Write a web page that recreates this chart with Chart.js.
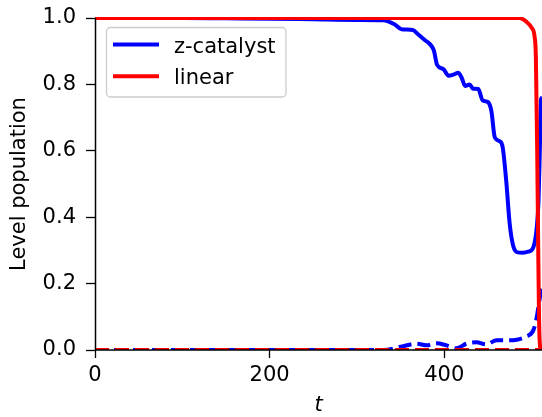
<!DOCTYPE html>
<html>
<head>
<meta charset="utf-8">
<script src="https://cdn.jsdelivr.net/npm/chart.js@4"></script>
<style>
  html, body { margin: 0; padding: 0; background: #fff; }
  #wrap { width: 542px; height: 417px; }
</style>
</head>
<body>
<div id="wrap"><canvas id="popChart" width="542" height="417"></canvas></div>
<script>
// z-catalyst, first level (solid) and second level (dashed)
const zcatT = [0, 100, 150, 200, 250, 300, 330, 343, 351, 364, 370, 378, 383, 388, 392, 399, 405, 411, 416, 420, 424, 429, 433, 439, 444, 450, 454, 458, 464, 467, 471, 475, 479, 484, 490, 496, 502, 506, 508, 509.5, 511, 512];
const zcatPop = [1.0, 1.0, 0.999, 0.998, 0.996, 0.994, 0.993, 0.981, 0.966, 0.964, 0.951, 0.933, 0.923, 0.903, 0.858, 0.846, 0.826, 0.830, 0.835, 0.820, 0.795, 0.800, 0.787, 0.786, 0.752, 0.747, 0.720, 0.640, 0.628, 0.610, 0.510, 0.380, 0.314, 0.294, 0.293, 0.296, 0.309, 0.369, 0.45, 0.60, 0.756, 0.76];
const zcatT2 = [0, 330, 352, 368, 380, 391, 402.5, 414, 425.5, 437, 448, 460, 471, 483, 494, 502, 506, 509, 512];
const zcatPop2 = [0, 0, 0.011, 0.019, 0.014, 0.020, 0.014, 0.005, 0.019, 0.023, 0.017, 0.029, 0.029, 0.031, 0.041, 0.059, 0.099, 0.15, 0.2];

// linear schedule
const linT = [0, 486, 494, 500, 503.7, 505, 506.5, 507.5, 508.5, 509.5, 511, 512];
const linPop = [1.0, 1.0, 0.989, 0.971, 0.94, 0.88, 0.6, 0.35, 0.12, 0.02, 0.0, 0.0];
const linT2 = [0, 512];
const linPop2 = [0, 0];

const yTicks = [0, 0.2, 0.4, 0.6, 0.8, 1.0];
const xTicks = [0, 200, 400];

const FONT = 'DejaVu Sans';

function pts(xs, ys) {
    return xs.map((x, i) => ({ x: x, y: ys[i] }));
}

// axes spines drawn above the curves
const spines = {
    id: 'spines',
    afterDatasetsDraw(chart) {
        const { ctx, chartArea: a } = chart;
        ctx.save();
        ctx.strokeStyle = '#000';
        ctx.lineWidth = 1.5;
        ctx.beginPath();
        ctx.moveTo(a.left + 0.5, a.top);
        ctx.lineTo(a.left + 0.5, a.bottom + 0.75);
        ctx.moveTo(a.left - 0.25, a.bottom);
        ctx.lineTo(a.right, a.bottom);
        ctx.stroke();
        ctx.restore();
    }
};

// legend box in the upper left of the plot
const legendBox = {
    id: 'legendBox',
    afterDraw(chart) {
        const ctx = chart.ctx;
        const items = chart.data.datasets.filter(d => d.label);
        ctx.save();
        ctx.beginPath();
        ctx.roundRect(106.5, 27.5, 179.5, 69.5, 4);
        ctx.fillStyle = 'rgba(255,255,255,0.8)';
        ctx.fill();
        ctx.strokeStyle = '#cccccc';
        ctx.lineWidth = 1.3;
        ctx.stroke();
        ctx.font = '21px "' + FONT + '"';
        ctx.textBaseline = 'alphabetic';
        ctx.fillStyle = '#000';
        items.forEach((d, i) => {
            const y = 44.5 + i * 31.7;
            ctx.strokeStyle = d.borderColor;
            ctx.lineWidth = 4;
            ctx.beginPath();
            ctx.moveTo(113, y);
            ctx.lineTo(159, y);
            ctx.stroke();
            ctx.fillText(d.label, 174, y + 8);
        });
        ctx.restore();
    }
};

const lineClip = { left: 0, top: 1, right: 5, bottom: 0 };

// drop the label padding chart.js adds around the scales
function noPad(s) {
    s.paddingTop = 0;
    s.paddingBottom = 0;
    s.paddingLeft = 0;
    s.paddingRight = 0;
}

// lower order is drawn on top: red over blue
new Chart(document.getElementById('popChart'), {
    type: 'line',
    data: {
        datasets: [
            { label: 'z-catalyst', data: pts(zcatT, zcatPop), borderColor: '#0000ff', borderWidth: 4, order: 2 },
            { label: '', data: pts(zcatT2, zcatPop2), borderColor: '#0000ff', borderWidth: 4, borderDash: [13, 6], order: 4 },
            { label: 'linear', data: pts(linT, linPop), borderColor: '#ff0000', borderWidth: 4, order: 1 },
            { label: '', data: pts(linT2, linPop2), borderColor: '#ff0000', borderWidth: 4, borderDash: [14, 6], order: 3 }
        ].map(d => Object.assign(d, {
            pointRadius: 0,
            fill: false,
            cubicInterpolationMode: 'monotone',
            clip: lineClip
        }))
    },
    options: {
        responsive: false,
        animation: false,
        devicePixelRatio: 1,
        layout: { padding: { top: 18, right: 0, bottom: 0, left: 0 } },
        plugins: { legend: { display: false }, tooltip: { enabled: false } },
        scales: {
            x: {
                type: 'linear',
                min: 0,
                max: 512,
                afterFit: s => { s.height = 67; noPad(s); },
                afterBuildTicks: s => { s.ticks = xTicks.map(v => ({ value: v })); },
                grid: { display: true, drawOnChartArea: false, drawTicks: true, tickLength: 8, tickColor: '#000', tickWidth: 1.3 },
                border: { display: false },
                ticks: { color: '#000', padding: 5, font: { family: FONT, size: 21 }, maxRotation: 0 },
                title: { display: true, text: 't', color: '#000', font: { family: FONT, size: 21, style: 'italic' }, padding: { top: 0, bottom: -1 } }
            },
            y: {
                min: 0,
                max: 1,
                afterFit: s => { s.width = 95; noPad(s); },
                afterBuildTicks: s => { s.ticks = yTicks.map(v => ({ value: v })); },
                grid: { display: true, drawOnChartArea: false, drawTicks: true, tickLength: 9, tickColor: '#000', tickWidth: 1.3 },
                border: { display: false },
                ticks: { color: '#000', padding: 10, font: { family: FONT, size: 21 }, callback: v => v.toFixed(1) },
                title: { display: true, text: 'Level population', color: '#000', font: { family: FONT, size: 21 }, padding: { top: 7, bottom: 0 } }
            }
        }
    },
    plugins: [spines, legendBox]
});
</script>
</body>
</html>
